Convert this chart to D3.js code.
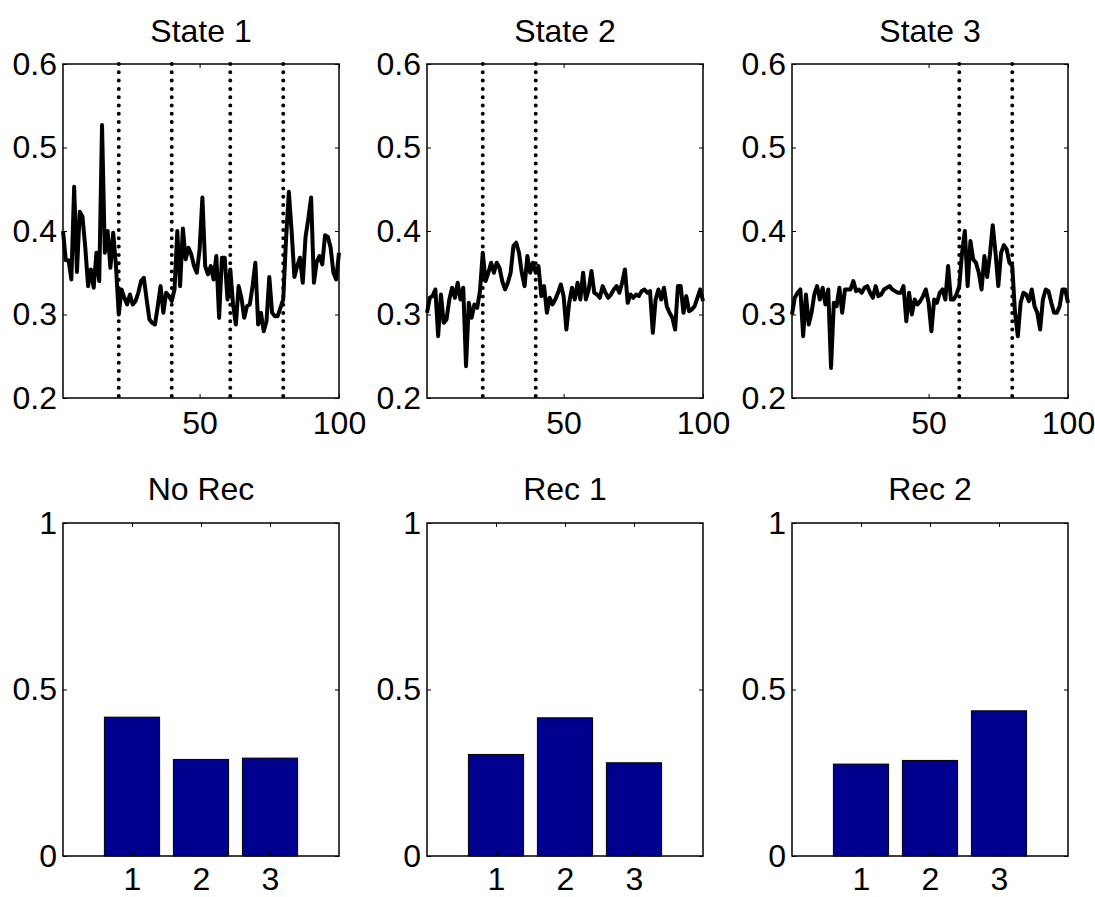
<!DOCTYPE html>
<html>
<head>
<meta charset="utf-8">
<script src="https://cdn.jsdelivr.net/npm/d3@7"></script>
<style>
  body { margin: 0; background: #fff; }
  svg text { font-family: "Liberation Sans", Arial, sans-serif; fill: #000; }
</style>
</head>
<body>
<div id="chart"></div>
<script>
// --- data ---
const stateTitles = ["State 1", "State 2", "State 3"];

const state1 = [
  0.400, 0.365, 0.365, 0.342, 0.453, 0.351, 0.423, 0.417, 0.380, 0.334,
  0.354, 0.332, 0.374, 0.340, 0.527, 0.374, 0.400, 0.356, 0.398, 0.358,
  0.300, 0.330, 0.320, 0.312, 0.324, 0.312, 0.316, 0.326, 0.340, 0.344,
  0.318, 0.294, 0.290, 0.288, 0.310, 0.334, 0.302, 0.326, 0.322, 0.316,
  0.330, 0.400, 0.334, 0.403, 0.366, 0.380, 0.372, 0.358, 0.350, 0.378,
  0.440, 0.358, 0.348, 0.358, 0.342, 0.370, 0.296, 0.368, 0.368, 0.318,
  0.354, 0.312, 0.288, 0.334, 0.320, 0.296, 0.310, 0.312, 0.334, 0.362,
  0.288, 0.302, 0.280, 0.292, 0.345, 0.302, 0.298, 0.298, 0.308, 0.318,
  0.390, 0.447, 0.400, 0.345, 0.358, 0.368, 0.338, 0.393, 0.415, 0.440,
  0.338, 0.363, 0.370, 0.360, 0.395, 0.393, 0.380, 0.350, 0.342, 0.374
];

const state2 = [
  0.302, 0.320, 0.322, 0.330, 0.274, 0.324, 0.290, 0.294, 0.318, 0.332,
  0.320, 0.338, 0.318, 0.332, 0.238, 0.314, 0.296, 0.312, 0.308, 0.328,
  0.374, 0.340, 0.350, 0.362, 0.350, 0.362, 0.356, 0.340, 0.330, 0.338,
  0.350, 0.382, 0.386, 0.374, 0.350, 0.334, 0.370, 0.350, 0.362, 0.350,
  0.358, 0.322, 0.334, 0.302, 0.320, 0.312, 0.318, 0.326, 0.336, 0.322,
  0.282, 0.314, 0.332, 0.318, 0.338, 0.318, 0.350, 0.318, 0.330, 0.352,
  0.326, 0.324, 0.320, 0.334, 0.326, 0.320, 0.324, 0.330, 0.334, 0.326,
  0.338, 0.354, 0.314, 0.324, 0.320, 0.324, 0.322, 0.328, 0.330, 0.326,
  0.328, 0.278, 0.318, 0.330, 0.318, 0.332, 0.310, 0.302, 0.296, 0.282,
  0.334, 0.334, 0.302, 0.322, 0.304, 0.306, 0.310, 0.320, 0.330, 0.316
];

const state3 = [
  0.300, 0.320, 0.326, 0.330, 0.274, 0.324, 0.288, 0.302, 0.324, 0.334,
  0.318, 0.332, 0.312, 0.330, 0.236, 0.314, 0.310, 0.332, 0.302, 0.330,
  0.330, 0.330, 0.340, 0.328, 0.330, 0.326, 0.332, 0.334, 0.326, 0.320,
  0.334, 0.322, 0.324, 0.330, 0.332, 0.334, 0.330, 0.328, 0.326, 0.326,
  0.334, 0.292, 0.326, 0.300, 0.318, 0.312, 0.316, 0.322, 0.330, 0.314,
  0.280, 0.318, 0.314, 0.326, 0.330, 0.318, 0.358, 0.318, 0.318, 0.324,
  0.334, 0.374, 0.400, 0.334, 0.388, 0.366, 0.362, 0.350, 0.330, 0.370,
  0.345, 0.372, 0.407, 0.374, 0.334, 0.374, 0.383, 0.378, 0.362, 0.358,
  0.302, 0.274, 0.314, 0.326, 0.324, 0.316, 0.330, 0.310, 0.302, 0.282,
  0.318, 0.330, 0.328, 0.314, 0.302, 0.302, 0.310, 0.330, 0.330, 0.314
];

const stateSeries = [state1, state2, state3];
const changePoints = [[21, 40, 61, 80], [21, 40], [61, 80]];

const recTitles = ["No Rec", "Rec 1", "Rec 2"];
const recCategories = [1, 2, 3];
const recValues = [
  [0.417, 0.290, 0.294],
  [0.305, 0.415, 0.280],
  [0.276, 0.287, 0.436]
];

const lineTicksX = [50, 100];
const lineTicksY = [0.2, 0.3, 0.4, 0.5, 0.6];
const barTicksY = [0, 0.5, 1];

// --- layout ---
const W = 1095, H = 897;
const colLeft = [63, 427, 792];
const panelW = 276;
const topRow = { y: 64, h: 334 };
const botRow = { y: 523, h: 333 };
const fontSize = 32;
const tick = 4;

const svg = d3.select("#chart").append("svg")
  .attr("width", W).attr("height", H)
  .style("background", "#fff");

function frame(g, x, y, w, h, xTicks, yTicks, xPad) {
  // ticks on all four sides, pointing inward, MATLAB style
  const yAxisL = d3.axisLeft(y).tickValues(yTicks).tickSizeInner(-tick).tickSizeOuter(0)
    .tickPadding(6).tickFormat(d3.format(""));
  const yAxisR = d3.axisRight(y).tickValues(yTicks).tickSizeInner(-tick).tickSizeOuter(0)
    .tickFormat("");
  const xAxisB = d3.axisBottom(x).tickValues(xTicks).tickSizeInner(-tick).tickSizeOuter(0)
    .tickPadding(xPad).tickFormat(d3.format(""));
  const xAxisT = d3.axisTop(x).tickValues(xTicks).tickSizeInner(-tick).tickSizeOuter(0)
    .tickFormat("");

  g.append("g").call(yAxisL);
  g.append("g").attr("transform", `translate(${w},0)`).call(yAxisR);
  g.append("g").attr("transform", `translate(0,${h})`).call(xAxisB);
  g.append("g").call(xAxisT);

  g.selectAll(".domain").remove();
  g.selectAll(".tick line").attr("stroke", "#000").attr("stroke-width", 1);
  g.selectAll(".tick text")
    .style("font-size", fontSize + "px")
    .style("font-family", "'Liberation Sans', Arial, sans-serif")
    .attr("fill", "#000");

  g.append("rect")
    .attr("x", 0).attr("y", 0).attr("width", w).attr("height", h)
    .attr("fill", "none").attr("stroke", "#000").attr("stroke-width", 1.5);
}

// --- top row: state traces ---
stateSeries.forEach((series, k) => {
  const g = svg.append("g").attr("transform", `translate(${colLeft[k]},${topRow.y})`);
  const x = d3.scaleLinear().domain([1, 100]).range([0, panelW]);
  const y = d3.scaleLinear().domain([0.2, 0.6]).range([topRow.h, 0]);

  g.append("rect").attr("width", panelW).attr("height", topRow.h).attr("fill", "#fff");

  const line = d3.line().x((d, i) => x(i + 1)).y(d => y(d));
  g.append("path")
    .datum(series)
    .attr("d", line)
    .attr("fill", "none")
    .attr("stroke", "#000")
    .attr("stroke-width", 4)
    .attr("stroke-linejoin", "round");

  g.selectAll(".cp")
    .data(changePoints[k])
    .join("line")
    .attr("class", "cp")
    .attr("x1", d => x(d)).attr("x2", d => x(d))
    .attr("y1", 0).attr("y2", topRow.h)
    .attr("stroke", "#000")
    .attr("stroke-width", 4)
    .attr("stroke-linecap", "round")
    .attr("stroke-dasharray", "0,8.3");

  frame(g, x, y, panelW, topRow.h, lineTicksX, lineTicksY, 13);

  g.append("text")
    .attr("x", panelW / 2).attr("y", -22)
    .attr("text-anchor", "middle")
    .style("font-size", fontSize + "px")
    .text(stateTitles[k]);
});

// --- bottom row: bar charts ---
recValues.forEach((vals, k) => {
  const g = svg.append("g").attr("transform", `translate(${colLeft[k]},${botRow.y})`);
  const x = d3.scaleLinear().domain([0, 4]).range([0, panelW]);
  const y = d3.scaleLinear().domain([0, 1]).range([botRow.h, 0]);
  const bw = x(0.8) - x(0);

  g.append("rect").attr("width", panelW).attr("height", botRow.h).attr("fill", "#fff");

  g.selectAll(".bar")
    .data(vals)
    .join("rect")
    .attr("class", "bar")
    .attr("x", (d, i) => x(recCategories[i]) - bw / 2)
    .attr("width", bw)
    .attr("y", d => y(d))
    .attr("height", d => y(0) - y(d))
    .attr("fill", "#00008f")
    .attr("stroke", "#000")
    .attr("stroke-width", 1);

  frame(g, x, y, panelW, botRow.h, recCategories, barTicksY, 11);

  g.append("text")
    .attr("x", panelW / 2).attr("y", -23)
    .attr("text-anchor", "middle")
    .style("font-size", fontSize + "px")
    .text(recTitles[k]);
});
</script>
</body>
</html>
